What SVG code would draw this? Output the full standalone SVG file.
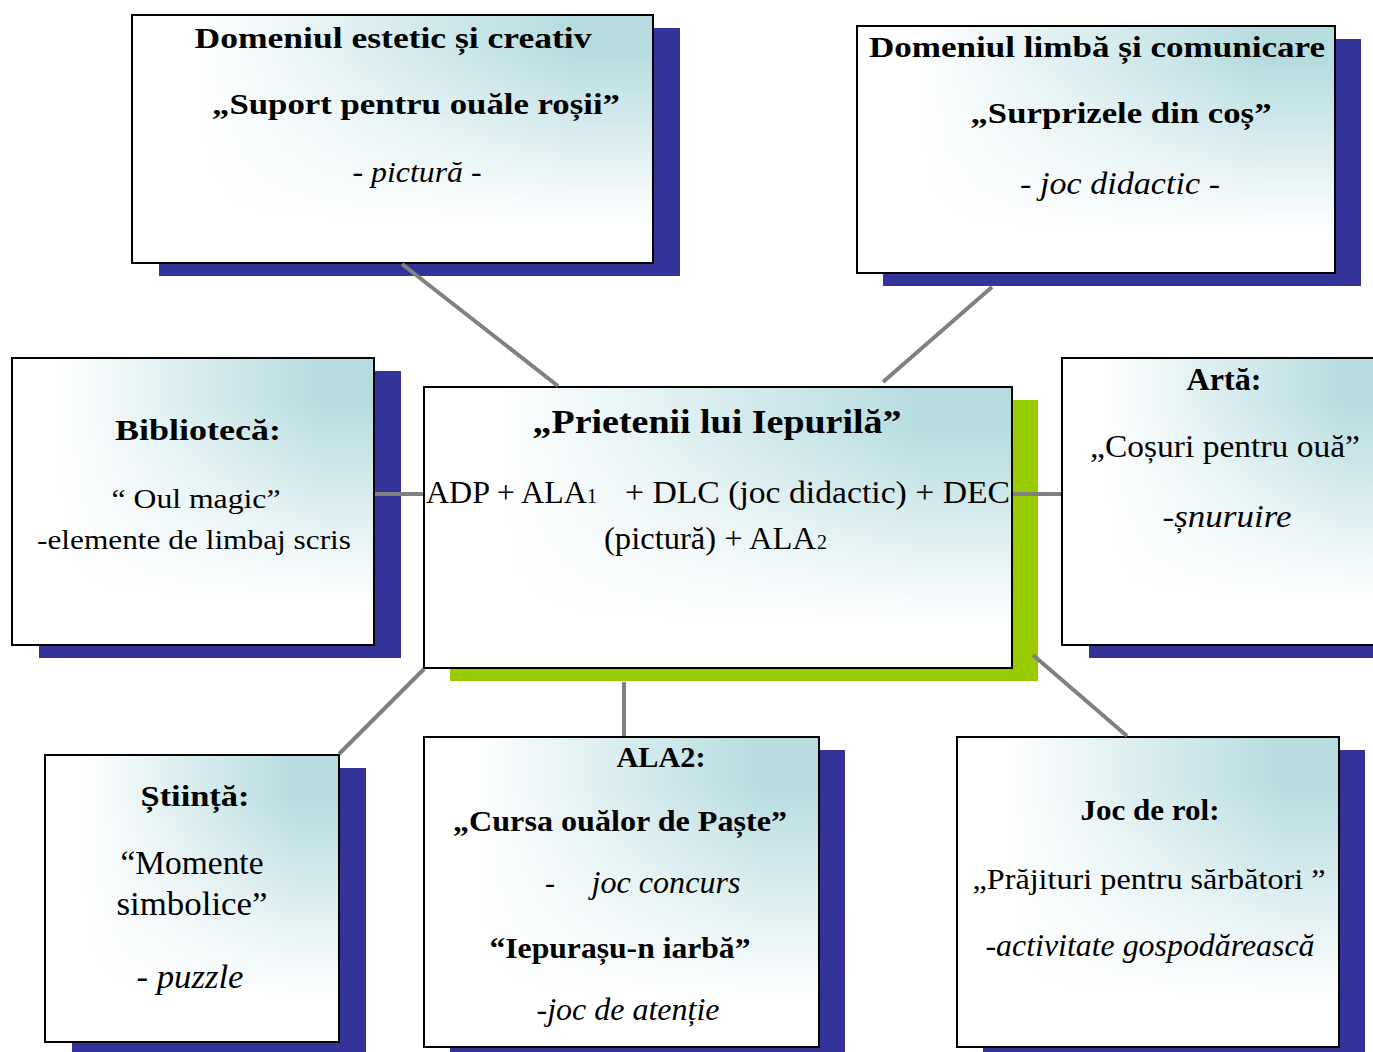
<svg xmlns="http://www.w3.org/2000/svg" width="1373" height="1052" viewBox="0 0 1373 1052">
<defs>
<linearGradient id="gh" x1="0" y1="0" x2="1" y2="0">
<stop offset="0.12" stop-color="#ffffff"/>
<stop offset="0.85" stop-color="#b6dce0"/>
</linearGradient>
<linearGradient id="gv" x1="0" y1="0" x2="0" y2="1">
<stop offset="0.15" stop-color="#ffffff" stop-opacity="0"/>
<stop offset="0.85" stop-color="#ffffff" stop-opacity="1"/>
</linearGradient>
<style>
.sh{fill:#333399}
.shg{fill:#99cc00}
.bg{fill:url(#gh)}
.ov{fill:url(#gv);stroke:#000;stroke-width:2}
text{font-family:"Liberation Serif","Times New Roman",serif;fill:#000;text-anchor:middle}
.b{font-weight:bold}
.i{font-style:italic}
.l{text-anchor:start}
.c line{stroke:#808080;stroke-width:4}
</style>
</defs>
<rect width="1373" height="1052" fill="#ffffff"/>

<g id="n-estetic">
<rect class="sh" x="159" y="28" width="521" height="248"/>
<rect class="bg" x="132" y="15" width="521" height="248"/>
<rect class="ov" x="132" y="15" width="521" height="248"/>
<text class="b" x="393" y="48" font-size="30" textLength="397" lengthAdjust="spacingAndGlyphs">Domeniul estetic și creativ</text>
<text class="b" x="416" y="114" font-size="30" textLength="408" lengthAdjust="spacingAndGlyphs">„Suport pentru ouăle roșii”</text>
<text class="i" x="417" y="182" font-size="30" textLength="129" lengthAdjust="spacingAndGlyphs">- pictură -</text>
</g>

<g id="n-limba">
<rect class="sh" x="883" y="39" width="478" height="247"/>
<rect class="bg" x="857" y="26" width="478" height="247"/>
<rect class="ov" x="857" y="26" width="478" height="247"/>
<text class="b" x="1097" y="57" font-size="30" textLength="456" lengthAdjust="spacingAndGlyphs">Domeniul limbă și comunicare</text>
<text class="b" x="1121" y="123" font-size="30" textLength="301" lengthAdjust="spacingAndGlyphs">„Surprizele din coș”</text>
<text class="i" x="1120" y="194" font-size="32" textLength="200" lengthAdjust="spacingAndGlyphs">- joc didactic -</text>
</g>

<g id="n-biblioteca">
<rect class="sh" x="39" y="371" width="362" height="287"/>
<rect class="bg" x="12" y="358" width="362" height="287"/>
<rect class="ov" x="12" y="358" width="362" height="287"/>
<text class="b" x="198" y="440" font-size="30" textLength="166" lengthAdjust="spacingAndGlyphs">Bibliotecă:</text>
<text x="196" y="508" font-size="28" textLength="169" lengthAdjust="spacingAndGlyphs">“ Oul magic”</text>
<text x="194" y="549" font-size="28" textLength="314" lengthAdjust="spacingAndGlyphs">-elemente de limbaj scris</text>
</g>

<g id="n-centru">
<rect class="shg" x="450" y="400" width="588" height="281"/>
<rect class="bg" x="424" y="387" width="588" height="281"/>
<rect class="ov" x="424" y="387" width="588" height="281"/>
<text class="b" x="717" y="433" font-size="34" textLength="369" lengthAdjust="spacingAndGlyphs">„Prietenii lui Iepurilă”</text>
<text class="l" x="426" y="503" font-size="32">ADP + ALA<tspan font-size="20">1</tspan></text>
<text class="l" x="625" y="503" font-size="32" textLength="385" lengthAdjust="spacingAndGlyphs">+ DLC (joc didactic) + DEC</text>
<text class="l" x="604" y="549" font-size="32" textLength="212" lengthAdjust="spacingAndGlyphs">(pictură) + ALA</text>
<text class="l" x="817" y="549" font-size="20">2</text>
</g>

<g id="n-arta">
<rect class="sh" x="1089" y="371" width="330" height="287"/>
<rect class="bg" x="1062" y="358" width="330" height="287"/>
<rect class="ov" x="1062" y="358" width="330" height="287"/>
<text class="b" x="1224" y="390" font-size="31" textLength="75" lengthAdjust="spacingAndGlyphs">Artă:</text>
<text x="1225" y="457" font-size="31" textLength="270" lengthAdjust="spacingAndGlyphs">„Coșuri pentru ouă”</text>
<text class="i" x="1227" y="527" font-size="32" textLength="129" lengthAdjust="spacingAndGlyphs">-șnuruire</text>
</g>

<g id="n-stiinta">
<rect class="sh" x="72" y="768" width="294" height="287"/>
<rect class="bg" x="45" y="755" width="294" height="287"/>
<rect class="ov" x="45" y="755" width="294" height="287"/>
<text class="b" x="195" y="806" font-size="30" textLength="109" lengthAdjust="spacingAndGlyphs">Știință:</text>
<text x="192" y="874" font-size="33" textLength="143" lengthAdjust="spacingAndGlyphs">“Momente</text>
<text x="192" y="915" font-size="33" textLength="151" lengthAdjust="spacingAndGlyphs">simbolice”</text>
<text class="i" x="190" y="988" font-size="33" textLength="107" lengthAdjust="spacingAndGlyphs">- puzzle</text>
</g>

<g id="n-ala2">
<rect class="sh" x="450" y="750" width="395" height="310"/>
<rect class="bg" x="424" y="737" width="395" height="310"/>
<rect class="ov" x="424" y="737" width="395" height="310"/>
<text class="b" x="661" y="767" font-size="30" textLength="89" lengthAdjust="spacingAndGlyphs">ALA2:</text>
<text class="b" x="620" y="831" font-size="29" textLength="334" lengthAdjust="spacingAndGlyphs">„Cursa ouălor de Paște”</text>
<text class="i" x="550" y="893" font-size="30">-</text>
<text class="i" x="666" y="893" font-size="31" textLength="149" lengthAdjust="spacingAndGlyphs">joc concurs</text>
<text class="b" x="620" y="958" font-size="29" textLength="261" lengthAdjust="spacingAndGlyphs">“Iepurașu-n iarbă”</text>
<text class="i" x="628" y="1020" font-size="31" textLength="183" lengthAdjust="spacingAndGlyphs">-joc de atenție</text>
</g>

<g id="n-joc">
<rect class="sh" x="983" y="750" width="382" height="310"/>
<rect class="bg" x="957" y="737" width="382" height="310"/>
<rect class="ov" x="957" y="737" width="382" height="310"/>
<text class="b" x="1150" y="820" font-size="30" textLength="139" lengthAdjust="spacingAndGlyphs">Joc de rol:</text>
<text x="1149" y="889" font-size="30" textLength="353" lengthAdjust="spacingAndGlyphs">„Prăjituri pentru sărbători ”</text>
<text class="i" x="1150" y="956" font-size="31" textLength="329" lengthAdjust="spacingAndGlyphs">-activitate gospodărească</text>
</g>

<g id="connectors" class="c">
<line x1="402" y1="264" x2="558" y2="386"/>
<line x1="992" y1="287" x2="883" y2="382"/>
<line x1="375" y1="494" x2="423" y2="494"/>
<line x1="1013" y1="494" x2="1061" y2="494"/>
<line x1="339" y1="754" x2="424" y2="669"/>
<line x1="624" y1="682" x2="624" y2="736"/>
<line x1="1033" y1="655" x2="1127" y2="736"/>
</g>
</svg>
